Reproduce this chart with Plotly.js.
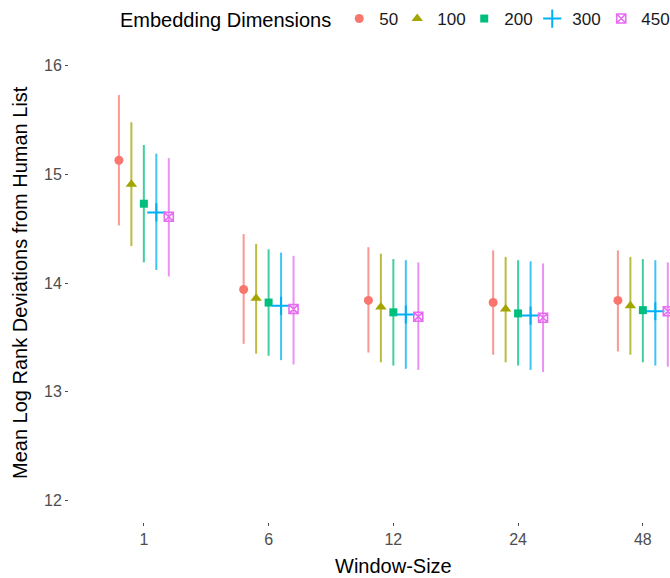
<!DOCTYPE html>
<html>
<head>
<meta charset="utf-8">
<script src="https://cdn.plot.ly/plotly-3.0.1.min.js"></script>
<style>html,body{margin:0;padding:0;background:#fff;}#chart{width:670px;height:578px;}</style>
</head>
<body>
<div id="chart"></div>
<script>
var windowSizes = ['1', '6', '12', '24', '48'];
var dims = ['50', '100', '200', '300', '450'];

var mean50 = [15.13, 13.94, 13.84, 13.82, 13.84];
var lo50   = [14.53, 13.44, 13.36, 13.34, 13.37];
var hi50   = [15.73, 14.45, 14.33, 14.30, 14.30];

var mean100 = [14.91, 13.86, 13.78, 13.76, 13.79];
var lo100   = [14.34, 13.35, 13.27, 13.27, 13.34];
var hi100   = [15.48, 14.36, 14.27, 14.24, 14.24];

var mean200 = [14.73, 13.82, 13.73, 13.72, 13.75];
var lo200   = [14.19, 13.33, 13.24, 13.24, 13.27];
var hi200   = [15.27, 14.31, 14.22, 14.21, 14.22];

var mean300 = [14.65, 13.79, 13.71, 13.70, 13.74];
var lo300   = [14.12, 13.29, 13.21, 13.20, 13.24];
var hi300   = [15.19, 14.28, 14.21, 14.20, 14.21];

var mean450 = [14.61, 13.76, 13.69, 13.68, 13.74];
var lo450   = [14.06, 13.25, 13.20, 13.18, 13.23];
var hi450   = [15.15, 14.25, 14.19, 14.18, 14.19];

var means = [mean50, mean100, mean200, mean300, mean450];
var lows = [lo50, lo100, lo200, lo300, lo450];
var highs = [hi50, hi100, hi200, hi300, hi450];

var colors = ['#F8766D', '#A3A500', '#00BF7D', '#00B0F6', '#E76BF3'];
var barColors = ['rgba(248,118,109,0.75)', 'rgba(163,165,0,0.75)', 'rgba(0,191,125,0.75)', 'rgba(0,176,246,0.75)', 'rgba(231,107,243,0.75)'];
var symbols = ['circle', 'triangle-up', 'square', 'cross-thin-open', 'square-x-open'];
var sizes = [9, 10, 8, 13, 9];
var lineWidths = [0, 0, 0, 2, 1.6];
var legendWidths = [13, 22, 23, 24, 24];

var FONT = '"Liberation Sans", Arial, Helvetica, sans-serif';
var dodge = 0.5;
var n = dims.length;

var traces = dims.map(function (d, k) {
  var off = (k - (n - 1) / 2) * dodge / n;
  var xs = windowSizes.map(function (w, i) { return i + off; });
  var m = means[k];
  return {
    type: 'scatter',
    mode: 'markers',
    name: d,
    x: xs,
    y: m,
    legendwidth: legendWidths[k],
    error_y: {
      type: 'data',
      symmetric: false,
      array: highs[k].map(function (h, i) { return h - m[i]; }),
      arrayminus: lows[k].map(function (l, i) { return m[i] - l; }),
      color: barColors[k],
      thickness: 2,
      width: 0
    },
    marker: {
      symbol: symbols[k],
      size: sizes[k],
      color: colors[k],
      line: { color: colors[k], width: lineWidths[k] }
    },
    cliponaxis: true,
    hoverinfo: 'x+y'
  };
});

var layout = {
  width: 670,
  height: 578,
  margin: { l: 69, r: 0, t: 44, b: 56, autoexpand: false },
  paper_bgcolor: '#ffffff',
  plot_bgcolor: '#ffffff',
  font: { family: FONT, color: '#000000' },
  showlegend: true,
  legend: {
    orientation: 'h',
    x: (118 - 69) / 601,
    xanchor: 'left',
    y: 1.09,
    yanchor: 'top',
    entrywidthmode: 'pixels',
    title: { text: 'Embedding Dimensions', font: { size: 20, color: '#000000', family: FONT }, side: 'left' },
    font: { size: 17, color: '#1a1a1a', family: FONT },
    bgcolor: 'rgba(0,0,0,0)',
    borderwidth: 0
  },
  xaxis: {
    range: [-0.6, -0.6 + 601 / 124.75],
    tickvals: windowSizes.map(function (w, i) { return i; }),
    ticktext: windowSizes,
    ticks: 'outside',
    ticklen: 3,
    tickwidth: 1,
    tickcolor: '#4D4D4D',
    tickfont: { size: 16, color: '#4D4D4D', family: FONT },
    showgrid: false,
    zeroline: false,
    showline: false
  },
  yaxis: {
    range: [11.8, 16.2],
    tickvals: [12, 13, 14, 15, 16],
    ticks: 'outside',
    ticklen: 3,
    tickwidth: 1,
    tickcolor: '#4D4D4D',
    tickfont: { size: 16, color: '#4D4D4D', family: FONT },
    showgrid: false,
    zeroline: false,
    showline: false
  },
  annotations: [
    {
      text: 'Mean Log Rank Deviations from Human List',
      xref: 'paper', yref: 'paper',
      x: (20 - 69) / 601, y: 0.5,
      xanchor: 'center', yanchor: 'middle',
      textangle: -90,
      showarrow: false,
      font: { size: 20, color: '#000000', family: FONT }
    },
    {
      text: 'Window-Size',
      xref: 'x', yref: 'paper',
      x: 2, y: (522 - 566) / 478,
      xanchor: 'center', yanchor: 'middle',
      showarrow: false,
      font: { size: 20, color: '#000000', family: FONT }
    }
  ]
};

Plotly.newPlot('chart', traces, layout, { displayModeBar: false, staticPlot: true });
</script>
</body>
</html>
